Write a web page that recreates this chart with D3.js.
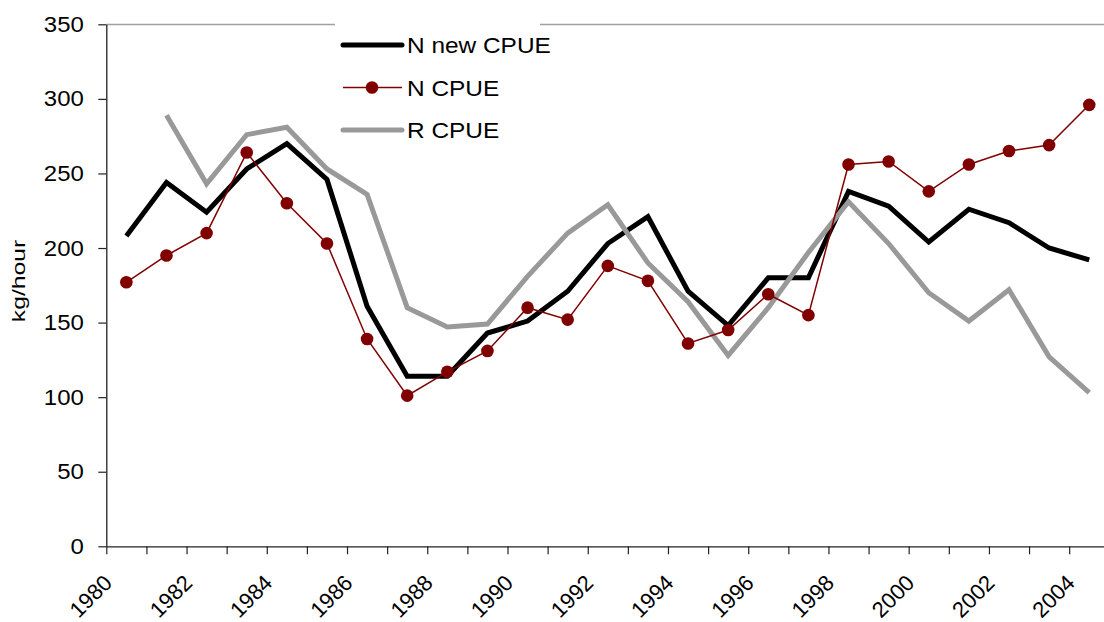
<!DOCTYPE html>
<html>
<head>
<meta charset="utf-8">
<title>CPUE</title>
<script src="https://cdn.jsdelivr.net/npm/d3@7"></script>
<style>
  body { margin: 0; background: #fff; }
  svg { display: block; font-family: "Liberation Sans", Arial, sans-serif; }
</style>
</head>
<body>
<div id="chart"></div>
<script>
// years on the category axis
var years = d3.range(1980, 2005);
var yTicks = [0, 50, 100, 150, 200, 250, 300, 350];

// kg/hour
var nNewCpue = [208, 244, 224, 253, 270, 246, 161, 114, 114, 143, 151, 171, 203, 221, 171, 148, 180, 180, 238, 228, 204, 226, 217, 200, 192];
var nCpue    = [177, 195, 210, 264, 230, 203, 139, 101, 117, 131, 160, 152, 188, 178, 136, 145, 169, 155, 256, 258, 238, 256, 265, 269, 296];
var rCpue    = [null, 289, 243, 276, 281, 253, 236, 160, 147, 149, 181, 210, 229, 190, 164, 128, 160, 197, 231, 203, 170, 151, 172, 127, 103];

var W = 1104, H = 622;
var plotL = 106.3, plotR = 1109.3, plotT = 24.3, plotB = 546.3;

var svg = d3.select("#chart").append("svg").attr("width", W).attr("height", H);

var x = d3.scaleBand().domain(years).range([plotL, plotR]).padding(0);
var xEdge = d3.scaleLinear().domain([0, years.length]).range([plotL, plotR]);
var y = d3.scaleLinear().domain([0, 350]).range([plotB, plotT]);

// top border of plot area
svg.append("line")
  .attr("x1", plotL).attr("x2", W).attr("y1", 24.5).attr("y2", 24.5)
  .attr("stroke", "#a0a0a0").attr("stroke-width", 1.3);

// y axis
var yAxis = svg.append("g").attr("transform", "translate(" + plotL + ",0)")
  .call(d3.axisLeft(y).tickValues(yTicks).tickSize(8).tickPadding(15).tickSizeOuter(0));
yAxis.select(".domain").attr("stroke", "#222").attr("stroke-width", 1.3);
yAxis.selectAll(".tick line").attr("stroke", "#222").attr("stroke-width", 1.2);
yAxis.selectAll(".tick text")
  .attr("x", null)
  .attr("transform", "translate(-22.5,0) scale(1.09,1)")
  .attr("font-size", 22).attr("fill", "#000")
  .attr("font-family", "Liberation Sans, Arial, sans-serif");

// x axis, ticks between categories
var xAxis = svg.append("g").attr("transform", "translate(0," + plotB + ")")
  .call(d3.axisBottom(xEdge).tickValues(d3.range(0, years.length + 1)).tickSize(8).tickFormat("").tickSizeOuter(0));
xAxis.select(".domain").attr("stroke", "#222").attr("stroke-width", 1.3);
xAxis.selectAll(".tick line").attr("stroke", "#222").attr("stroke-width", 1.2);

svg.append("g").selectAll("text")
  .data(years.filter(function(d, i) { return i % 2 == 0; }))
  .join("text")
  .attr("text-anchor", "end")
  .attr("font-size", 22)
  .attr("transform", function(d) {
    return "translate(" + (xEdge(d - 1980) + 7) + "," + (plotB + 38) + ") rotate(-45)";
  })
  .text(function(d) { return d; });

// y label
svg.append("text")
  .attr("transform", "translate(25,281) rotate(-90) scale(1.3,1)")
  .attr("text-anchor", "middle")
  .attr("font-size", 19)
  .text("kg/hour");

function cx(d, i) { return x(years[i]) + x.bandwidth() / 2; }

var line = d3.line()
  .defined(function(d) { return d != null; })
  .x(cx)
  .y(function(d) { return y(d); });

svg.append("path").datum(nNewCpue)
  .attr("d", line).attr("fill", "none")
  .attr("stroke", "#000").attr("stroke-width", 5);

svg.append("path").datum(rCpue)
  .attr("d", line).attr("fill", "none")
  .attr("stroke", "#999").attr("stroke-width", 5);

svg.append("path").datum(nCpue)
  .attr("d", line).attr("fill", "none")
  .attr("stroke", "#800000").attr("stroke-width", 1.5);

svg.append("g").selectAll("circle")
  .data(nCpue).join("circle")
  .attr("cx", cx)
  .attr("cy", function(d) { return y(d); })
  .attr("r", 6.3)
  .attr("fill", "#800000");

// legend
var legend = svg.append("g");
legend.append("rect")
  .attr("x", 335).attr("y", 23).attr("width", 205).attr("height", 125)
  .attr("fill", "#fff");

var items = [
  { name: "N new CPUE", color: "#000", width: 5, dot: false },
  { name: "N CPUE", color: "#800000", width: 1.5, dot: true },
  { name: "R CPUE", color: "#999", width: 5, dot: false }
];

var row = legend.selectAll("g.item").data(items).join("g")
  .attr("transform", function(d, i) { return "translate(0," + (45 + i * 42.5) + ")"; });

row.append("line")
  .attr("x1", 343).attr("x2", 402).attr("y1", 0).attr("y2", 0)
  .attr("stroke", function(d) { return d.color; })
  .attr("stroke-width", function(d) { return d.width; })
  .attr("stroke-linecap", function(d) { return d.dot ? "butt" : "round"; });

row.filter(function(d) { return d.dot; }).append("circle")
  .attr("cx", 372).attr("cy", 0).attr("r", 6.3).attr("fill", "#800000");

row.append("text")
  .attr("transform", "translate(407,8) scale(1.11,1)")
  .attr("font-size", 22)
  .text(function(d) { return d.name; });
</script>
</body>
</html>
